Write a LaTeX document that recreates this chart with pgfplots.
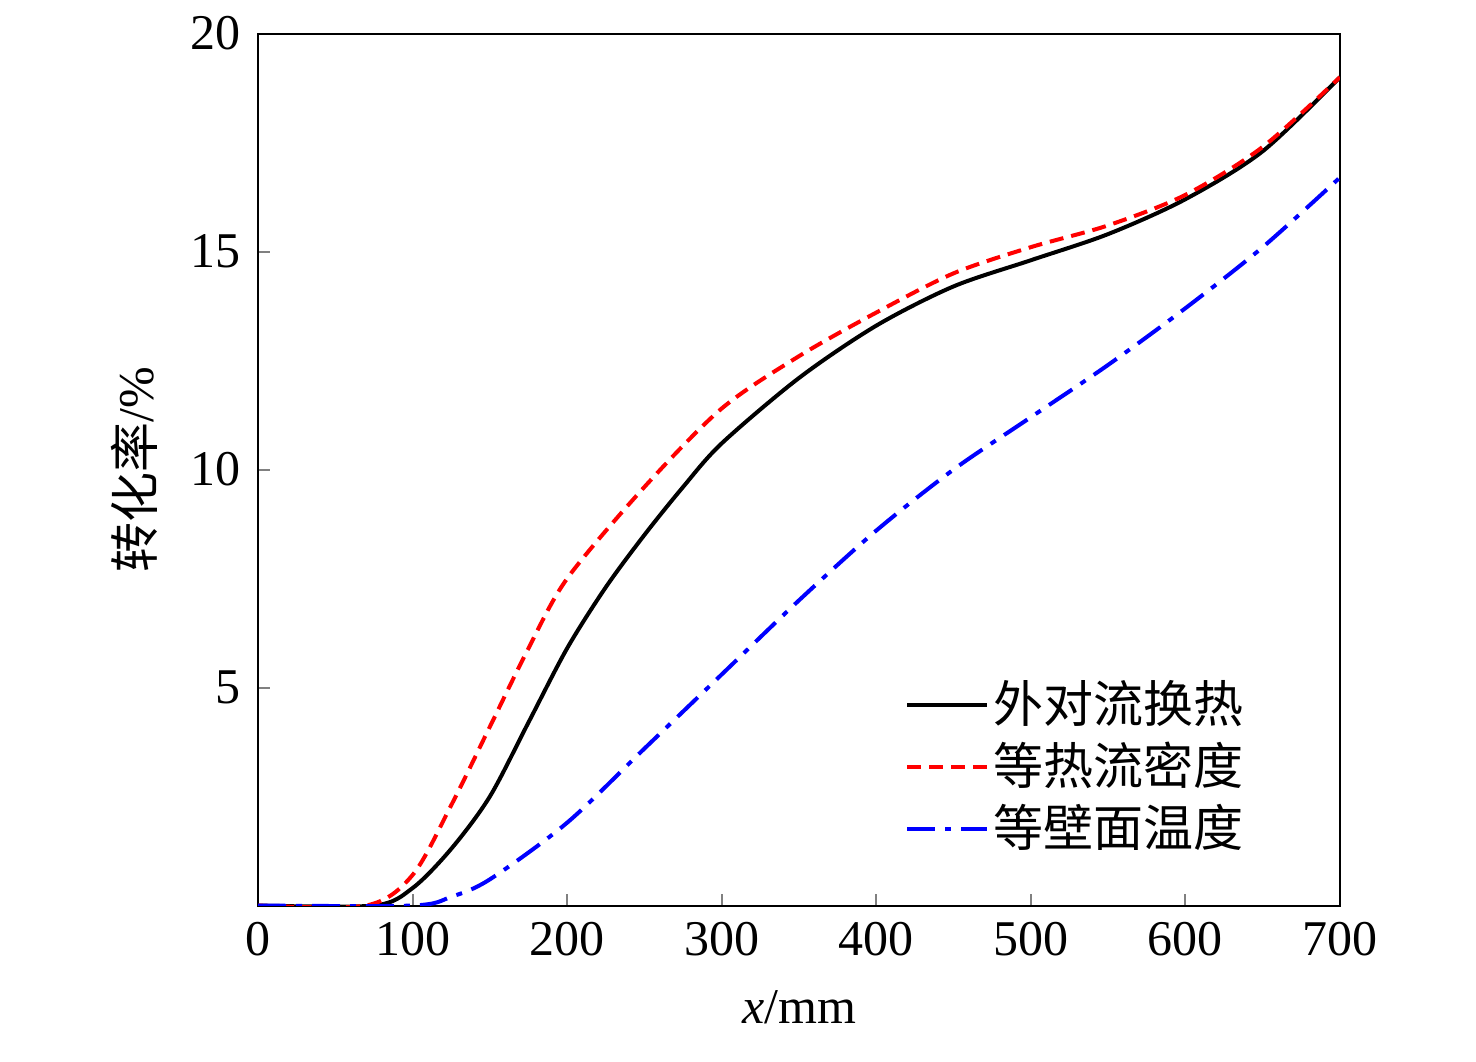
\documentclass[border=0pt]{standalone}
\usepackage{pgfplots}
\pgfplotsset{compat=1.18}
\usepackage{fontspec}
\setmainfont{Liberation Serif}
\newfontfamily\cjk{Noto Sans CJK SC}
\begin{document}
\fontsize{25}{29}\selectfont
\begin{tikzpicture}
\begin{axis}[scale only axis, width=541pt, height=436pt,
 xmin=0, xmax=700, ymin=0, ymax=20,
 xtick={0,100,...,700}, ytick={5,10,15,20},
 tick align=inside, xtick pos=bottom, ytick pos=left,
 major tick length=6pt,
 /pgf/number format/assume math mode=true,
 ticklabel style={font=\fontsize{25}{29}\selectfont},
 xlabel={\textit{x}/mm}, ylabel={{\cjk 转化率}/\%},
 label style={font=\fontsize{25}{29}\selectfont},
 legend style={draw=none, fill=none, at={(0.92,0.05)}, anchor=south east, font=\fontsize{25}{29}\selectfont\cjk, row sep=2pt},
 legend image code/.code={\draw[#1] (0cm,0cm) -- (1.4cm,0cm);},
 axis line style={line width=1pt}, tick style={line width=1pt}]
\addplot[black, line width=2pt, smooth] coordinates {(0,0)(75,0)(100,0.4)(125,1.3)(150,2.5)(175,4.2)(200,5.9)(225,7.3)(250,8.5)(275,9.6)(300,10.6)(350,12.1)(400,13.3)(450,14.2)(500,14.8)(550,15.4)(600,16.2)(650,17.3)(700,19.0)};
\addplot[red, line width=2pt, dash pattern=on 7pt off 4pt, smooth] coordinates {(0,0)(70,0)(100,0.7)(125,2.3)(150,4.1)(175,5.9)(200,7.5)(250,9.6)(300,11.4)(350,12.6)(400,13.6)(450,14.5)(500,15.1)(550,15.6)(600,16.3)(650,17.4)(700,19.0)};
\addplot[blue, line width=2pt, dash pattern=on 14pt off 5pt on 3pt off 5pt, smooth] coordinates {(0,0)(100,0)(125,0.2)(150,0.6)(200,1.9)(250,3.6)(300,5.3)(350,7.0)(400,8.6)(450,10.0)(500,11.2)(550,12.4)(600,13.7)(650,15.1)(700,16.7)};
\legend{外对流换热,等热流密度,等壁面温度}
\end{axis}
\useasboundingbox (-129pt,-78pt) rectangle (609pt,450pt);
\end{tikzpicture}
\end{document}
